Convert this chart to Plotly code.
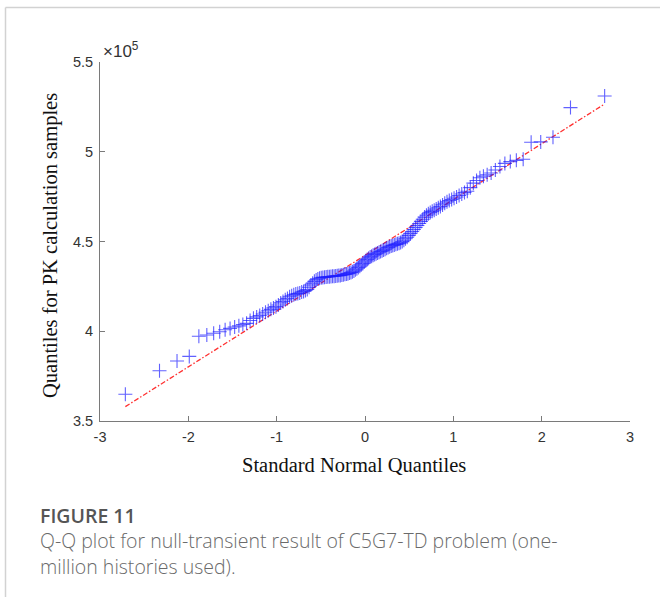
from statistics import NormalDist

import plotly.graph_objects as go

# Sorted PK calculation samples (150 samples)
pk_samples = [
    364900, 378000, 383400, 386000, 397200, 397900, 398900, 399700, 400800, 401600,
    402400, 403000, 403800, 404400, 406000, 407200, 408000, 408800, 409600, 410600,
    411400, 412200, 413000, 413700, 414600, 415800, 416600, 417500, 418300, 419200,
    419800, 420300, 420700, 421000, 421300, 421800, 422200, 422700, 423300, 424500,
    425800, 426800, 427800, 428600, 429100, 429500, 429800, 430000, 430100, 430200,
    430300, 430400, 430500, 430600, 430700, 430800, 430900, 431000, 431100, 431300,
    431500, 431700, 431900, 432100, 432400, 432700, 433100, 433600, 434200, 434800,
    435500, 436200, 437000, 437800, 438600, 439300, 440000, 440700, 441300, 441800,
    442300, 442800, 443200, 443600, 444000, 444400, 444800, 445200, 445700, 446200,
    446700, 447100, 447500, 447800, 448100, 448400, 448700, 449000, 449400, 450000,
    450700, 451500, 452400, 453400, 454500, 455600, 456700, 457800, 458900, 460000,
    461200, 462400, 463600, 464600, 465400, 466200, 466800, 467400, 468100, 468800,
    469500, 470400, 471300, 472100, 472800, 473400, 474100, 474800, 475600, 476500,
    477300, 478000, 480000, 482500, 484000, 485500, 486400, 487200, 488200, 489800,
    491800, 493500, 494500, 495200, 495800, 505300, 505500, 508100, 524600, 531100,
]

# Reference line end values (through the quartiles, spanning the data range)
ref_line_y = [358000, 526600]

x_ticks = [-3, -2, -1, 0, 1, 2, 3]
y_ticks = [350000, 400000, 450000, 500000, 550000]
y_tick_text = ["3.5", "4", "4.5", "5", "5.5"]

# Theoretical standard normal quantiles at plotting positions (i - 0.5) / n
n = len(pk_samples)
std_normal = NormalDist()
normal_q = [std_normal.inv_cdf((i + 0.5) / n) for i in range(n)]
ref_line_x = [normal_q[0], normal_q[-1]]

W, H = 660, 597
M_L, M_R, M_T, M_B = 100, 30, 62, 176
PW, PH = W - M_L - M_R, H - M_T - M_B


def px_x(px):
    return (px - M_L) / PW


def px_y(py):
    return (H - M_B - py) / PH


fig = go.Figure()

fig.add_trace(go.Scatter(
    x=ref_line_x, y=ref_line_y, mode="lines",
    line=dict(color="#ff3030", width=1.3, dash="5px,2px,1.5px,2px"),
    hoverinfo="skip", showlegend=False,
))

fig.add_trace(go.Scatter(
    x=normal_q, y=pk_samples, mode="markers",
    marker=dict(symbol="cross-thin", size=10,
                line=dict(color="rgba(30,30,255,0.7)", width=1.1)),
    showlegend=False,
))

axis_common = dict(
    showgrid=False, zeroline=False, showline=True, linecolor="#7a7a7a", linewidth=1,
    ticks="inside", ticklen=5, tickcolor="#7a7a7a", tickwidth=1,
    tickfont=dict(family="Liberation Sans, Arial", size=14.5, color="#333333"),
    mirror=False,
)

fig.update_layout(
    width=W, height=H,
    margin=dict(l=M_L, r=M_R, t=M_T, b=M_B),
    paper_bgcolor="white", plot_bgcolor="white",
    xaxis=dict(range=[-3, 3], tickvals=x_ticks, ticktext=[str(v) for v in x_ticks],
               ticklabelstandoff=3, **axis_common),
    yaxis=dict(range=[350000, 550000], tickvals=y_ticks, ticktext=y_tick_text,
               ticklabelstandoff=3, **axis_common),
)

# Frame around the figure panel
fig.add_shape(type="line", xref="paper", yref="paper",
              x0=px_x(5.5), x1=px_x(662), y0=px_y(7.5), y1=px_y(7.5),
              line=dict(color="#d2d2d2", width=1.5))
fig.add_shape(type="line", xref="paper", yref="paper",
              x0=px_x(5.5), x1=px_x(5.5), y0=px_y(7.5), y1=px_y(600),
              line=dict(color="#d2d2d2", width=1.5))

annotations = [
    # axis exponent
    dict(text="×10<sup>5</sup>", x=px_x(101), y=px_y(50), xanchor="left", yanchor="middle",
         font=dict(family="Liberation Sans, Arial", size=17, color="#333333")),
    # axis titles
    dict(text="Standard Normal Quantiles", x=px_x(354), y=px_y(465),
         xanchor="center", yanchor="middle",
         font=dict(family="Liberation Serif, Times New Roman", size=20.5, color="#111111")),
    dict(text="Quantiles for PK calculation samples", x=px_x(50), y=px_y(246),
         xanchor="center", yanchor="middle", textangle=-90,
         font=dict(family="Liberation Serif, Times New Roman", size=20.5, color="#111111")),
    # caption
    dict(text="FIGURE 11", x=px_x(38), y=px_y(515), xanchor="left", yanchor="middle",
         font=dict(family="Open Sans", size=19.5, color="#555555", weight=600)),
    dict(text="Q-Q plot for null-transient result of C5G7-TD problem (one-",
         x=px_x(38), y=px_y(540), xanchor="left", yanchor="middle",
         font=dict(family="Open Sans", size=19.5, color="#6a6a6a", weight=300)),
    dict(text="million histories used).",
         x=px_x(38), y=px_y(566), xanchor="left", yanchor="middle",
         font=dict(family="Open Sans", size=19.5, color="#6a6a6a", weight=300)),
]
for a in annotations:
    fig.add_annotation(xref="paper", yref="paper", showarrow=False, **a)

fig.write_html("out.html")
